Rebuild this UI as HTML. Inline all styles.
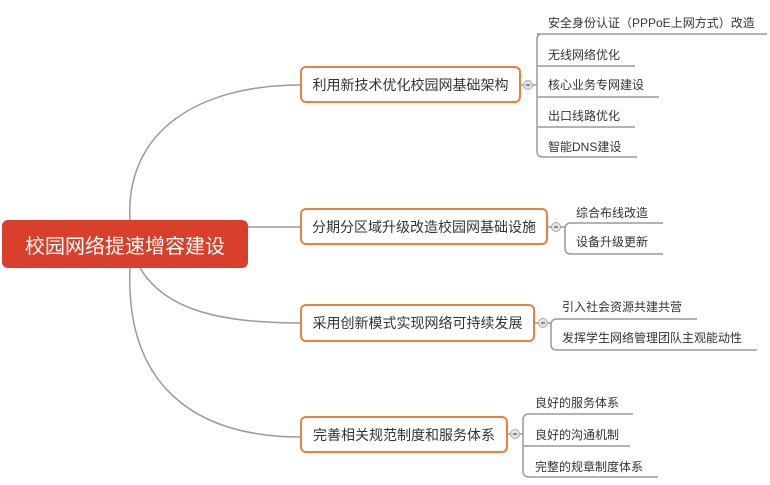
<!DOCTYPE html>
<html><head><meta charset="utf-8"><style>
body{margin:0;width:770px;height:485px;background:#fff;position:relative;overflow:hidden;font-family:"Liberation Sans","Noto Sans CJK SC",sans-serif;}
.b{position:absolute;border:2px solid #e8803f;border-radius:6px;background:#fff;box-sizing:border-box;color:#333;font-size:14px;display:flex;align-items:center;justify-content:center;}
.t{position:absolute;font-size:12px;color:#333;line-height:14px;white-space:nowrap;}
.r{position:absolute;left:2px;top:220px;width:246px;height:48px;background:#d8402b;border-radius:6px;color:#fff;font-size:20px;display:flex;align-items:center;justify-content:center;}
</style></head><body>
<svg width="770" height="485" style="position:absolute;left:0;top:0" fill="none" stroke="#9a9a9a" stroke-width="1.5">
<path d="M130,220 C125,130 200,85 300,85"/>
<path d="M248,227 L300,227"/>
<path d="M140,268 C165,310 220,323 300,323"/>
<path d="M130,268 C125,390 200,437 300,437"/>
<path d="M537,34 L767,34 M541,34 Q537,34 537,40 L537,151 Q537,157 543,157 L637,157 M537,66 L635,66 M537,97 L659,97 M537,127 L635,127"/>
<path d="M521,85 L537,85"/>
<path d="M548,227 L565,227 M663,223 L571,223 Q565,223 565,229 L565,248 Q565,254 571,254 L663,254"/>
<path d="M535,323 L551,323 M697,319 L557,319 Q551,319 551,325 L551,344 Q551,350 557,350 L757,350"/>
<path d="M508,434 L523,434 M633,414 L529,414 Q523,414 523,420 L523,471 Q523,477 529,477 L658,477 M523,446 L630,446"/>
<g fill="#e4e4e4" stroke="#aaa" stroke-width="1"><circle cx="528" cy="85" r="4.5"/><circle cx="556" cy="227" r="4.5"/><circle cx="543" cy="323" r="4.5"/><circle cx="515" cy="434" r="4.5"/></g>
<g stroke="#555" stroke-width="1.2"><path d="M526,85h4M554,227h4M541,323h4M513,434h4"/></g>
</svg>
<div class="r">校园网络提速增容建设</div>
<div class="b" style="left:300px;top:66px;width:221px;height:37px">利用新技术优化校园网基础架构</div>
<div class="b" style="left:300px;top:208px;width:248px;height:37px">分期分区域升级改造校园网基础设施</div>
<div class="b" style="left:300px;top:304px;width:235px;height:38px">采用创新模式实现网络可持续发展</div>
<div class="b" style="left:300px;top:416px;width:208px;height:37px">完善相关规范制度和服务体系</div>
<div class="t" style="left:548px;top:16px">安全身份认证（PPPoE上网方式）改造</div>
<div class="t" style="left:548px;top:48px">无线网络优化</div>
<div class="t" style="left:548px;top:78px">核心业务专网建设</div>
<div class="t" style="left:548px;top:109px">出口线路优化</div>
<div class="t" style="left:548px;top:140px">智能DNS建设</div>
<div class="t" style="left:576px;top:206px">综合布线改造</div>
<div class="t" style="left:576px;top:235px">设备升级更新</div>
<div class="t" style="left:562px;top:300px">引入社会资源共建共营</div>
<div class="t" style="left:562px;top:331px">发挥学生网络管理团队主观能动性</div>
<div class="t" style="left:535px;top:396px">良好的服务体系</div>
<div class="t" style="left:535px;top:428px">良好的沟通机制</div>
<div class="t" style="left:535px;top:460px">完整的规章制度体系</div>
</body></html>
